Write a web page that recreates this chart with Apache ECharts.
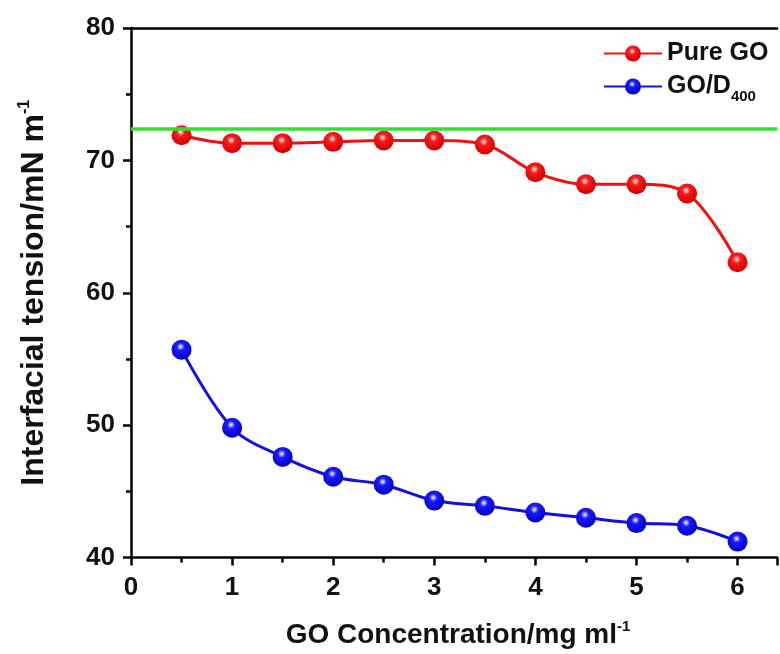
<!DOCTYPE html>
<html>
<head>
<meta charset="utf-8">
<script src="https://cdn.jsdelivr.net/npm/echarts@6/dist/echarts.min.js"></script>
<style>html,body{margin:0;padding:0;background:#fff;}#c{width:780px;height:654px;}</style>
</head>
<body>
<div id="c"></div>
<script>
const concentrations = [0.5, 1, 1.5, 2, 2.5, 3, 3.5, 4, 4.5, 5, 5.5, 6];
const pureGO = [71.9, 71.3, 71.3, 71.4, 71.5, 71.5, 71.2, 69.1, 68.2, 68.2, 67.5, 62.3];
const goD400 = [55.7, 49.8, 47.6, 46.1, 45.5, 44.3, 43.9, 43.4, 43.0, 42.6, 42.4, 41.2];
const waterTension = 72.4;
const seriesNames = ['Pure GO', 'GO/D400'];

const font = 'Liberation Sans, Arial, sans-serif';
function sphere(base, dark) {
  return new echarts.graphic.RadialGradient(0.45, 0.35, 0.65, [
    {offset: 0, color: '#ffffff'},
    {offset: 0.3, color: base},
    {offset: 1, color: dark}
  ]);
}
const chart = echarts.init(document.getElementById('c'));
chart.setOption({
  backgroundColor: '#ffffff',
  animation: false,
  grid: {left: 131, right: 0, top: 28, bottom: 92},
  legend: {
    orient: 'vertical', left: 598, top: 36, itemGap: 8,
    itemWidth: 58, itemHeight: 20,
    data: seriesNames,
    formatter: n => n === 'GO/D400' ? 'GO/D{sub|400}' : n,
    textStyle: {fontFamily: font, fontWeight: 'bold', fontSize: 25, color: '#111',
      rich: {sub: {fontFamily: font, fontWeight: 'bold', fontSize: 15, color: '#111', padding: [20, 0, 0, 0]}}}
  },
  xAxis: [{
    type: 'value', min: 0, max: 6.39, interval: 1,
    name: 'GO Concentration/mg ml{sup|-1}', nameLocation: 'middle', nameGap: 62,
    nameTextStyle: {fontFamily: font, fontWeight: 'bold', fontSize: 28, color: '#111', padding: [0, 0, 0, 8],
      rich: {sup: {fontFamily: font, fontWeight: 'bold', fontSize: 15, color: '#111', padding: [0, 0, 16, 0]}}},
    axisLine: {lineStyle: {color: '#000', width: 2.5}},
    axisTick: {inside: false, length: 8, lineStyle: {width: 2.5, color: '#000'}},
    minorTick: {show: true, splitNumber: 2, length: 5, lineStyle: {width: 2.5, color: '#000'}},
    splitLine: {show: false},
    axisLabel: {fontFamily: font, fontWeight: 'bold', fontSize: 26, color: '#111', margin: 17,
      formatter: v => Number.isInteger(v) ? String(v) : ''}
  }, {
    type: 'value', position: 'top', min: 0, max: 6.39,
    axisLine: {show: true, onZero: false, lineStyle: {color: '#000', width: 2.5}},
    axisTick: {show: false}, axisLabel: {show: false}, splitLine: {show: false}
  }],
  yAxis: {
    type: 'value', min: 40, max: 80, interval: 10,
    name: 'Interfacial tension/mN m{sup|-1}', nameLocation: 'middle', nameGap: 80, nameRotate: 90,
    nameTextStyle: {fontFamily: font, fontWeight: 'bold', fontSize: 32, color: '#111',
      rich: {sup: {fontFamily: font, fontWeight: 'bold', fontSize: 16, color: '#111', padding: [0, 0, 18, 0]}}},
    axisLine: {show: true, lineStyle: {color: '#000', width: 2.5}},
    axisTick: {inside: false, length: 8, lineStyle: {width: 2.5, color: '#000'}},
    minorTick: {show: true, splitNumber: 2, length: 5, lineStyle: {width: 2.5, color: '#000'}},
    splitLine: {show: false},
    axisLabel: {fontFamily: font, fontWeight: 'bold', fontSize: 26, color: '#111', margin: 16}
  },
  series: [{
    name: seriesNames[0], type: 'line', smooth: 0.35,
    data: concentrations.map((x, i) => [x, pureGO[i]]),
    symbol: 'circle', symbolSize: 20,
    lineStyle: {color: '#ee1111', width: 3},
    itemStyle: {color: sphere('#ff1a1a', '#cc0000')},
    z: 3,
    markLine: {
      silent: true, symbol: 'none', label: {show: false},
      lineStyle: {color: '#2fe02f', width: 3.5, type: 'solid'},
      data: [{yAxis: waterTension}]
    }
  }, {
    name: seriesNames[1], type: 'line', smooth: 0.35,
    data: concentrations.map((x, i) => [x, goD400[i]]),
    symbol: 'circle', symbolSize: 20,
    lineStyle: {color: '#1010e0', width: 3},
    itemStyle: {color: sphere('#1a1aff', '#0000c0')},
    z: 3
  }]
});
</script>
</body>
</html>
